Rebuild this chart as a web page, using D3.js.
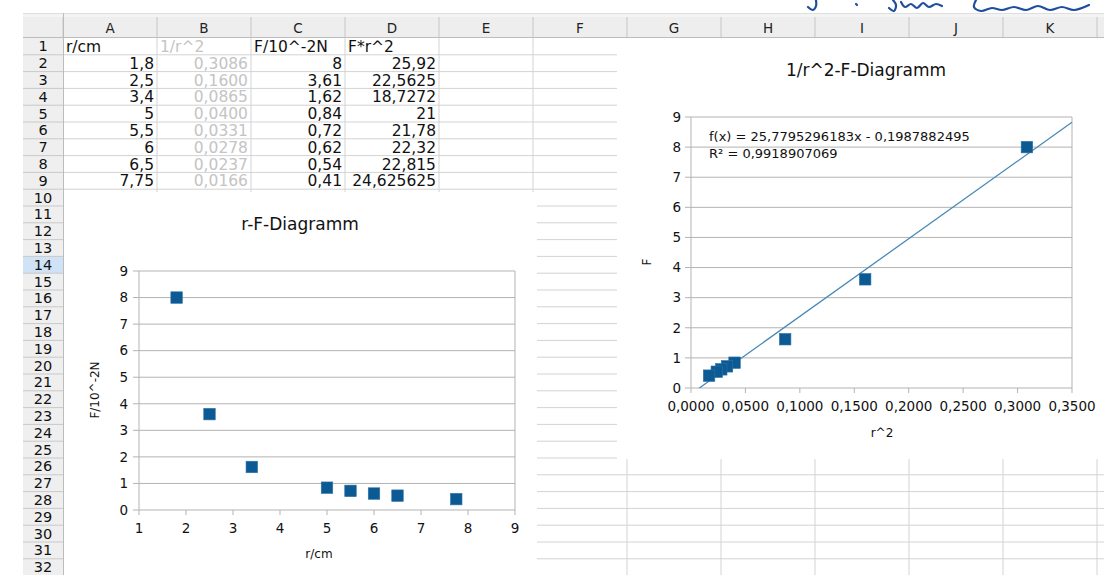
<!DOCTYPE html>
<html><head><meta charset="utf-8">
<script src="https://cdn.jsdelivr.net/npm/d3@7"></script>
<style>body{margin:0;background:#fff;overflow:hidden}svg{display:block}</style>
</head><body><svg id="c" width="1104" height="575"></svg>
<script>
// ---------- data ----------
const rValues = [1.8, 2.5, 3.4, 5, 5.5, 6, 6.5, 7.75];
const invR2Values = [0.3086, 0.1600, 0.0865, 0.0400, 0.0331, 0.0278, 0.0237, 0.0166];
const forceValues = [8, 3.61, 1.62, 0.84, 0.72, 0.62, 0.54, 0.41];
const forceR2Values = [25.92, 22.5625, 18.7272, 21, 21.78, 22.32, 22.815, 24.625625];
const headerLabels = ["r/cm", "1/r^2", "F/10^-2N", "F*r^2"];
const columnLetters = ["A","B","C","D","E","F","G","H","I","J","K"];
const yTicks = [0,1,2,3,4,5,6,7,8,9];
const leftXTicks = [1,2,3,4,5,6,7,8,9];
const rightXTicks = [0, 0.05, 0.10, 0.15, 0.20, 0.25, 0.30, 0.35];
const trendSlope = 25.7795296183;
const trendIntercept = -0.1987882495;
const trendLabel = "f(x) = 25,7795296183x - 0,1987882495";
const r2Label = "R\u00B2 = 0,9918907069";
const leftTitle = "r-F-Diagramm", rightTitle = "1/r^2-F-Diagramm";
const leftXLabel = "r/cm", leftYLabel = "F/10^-2N", rightXLabel = "r^2", rightYLabel = "F";

// ---------- helpers ----------
const de = d3.formatLocale({decimal: ",", thousands: ".", grouping: [3], currency: ["", "€"]});
const fmt4 = de.format(".4f");
const fmtGen = v => String(v).replace(".", ",");
const svg = d3.select("#c");
const FONT = "DejaVu Sans, Verdana, sans-serif";
const GRID = "#d3d3d3";

// ---------- spreadsheet ----------
const colX = d3.scaleLinear().domain([0, 11]).range([63, 1097]);
const rowY = d3.scaleLinear().domain([0, 32]).range([38, 575.6]);
const rowsIdx = d3.range(1, 33);
const colsIdx = d3.range(0, 12);

svg.append("g").selectAll("line").data(rowsIdx).join("line")
  .attr("x1", 63).attr("x2", 1104).attr("y1", d => rowY(d)).attr("y2", d => rowY(d))
  .attr("stroke", GRID);
svg.append("g").selectAll("line").data(colsIdx).join("line")
  .attr("x1", d => colX(d)).attr("x2", d => colX(d)).attr("y1", 38).attr("y2", 576)
  .attr("stroke", GRID);

// column header
svg.append("rect").attr("x", 23).attr("y", 13).attr("width", 1081).attr("height", 25).attr("fill", "#eeeeee");
svg.append("rect").attr("x", 23).attr("y", 13).attr("width", 1081).attr("height", 4).attr("fill", "#f4f4f4");
svg.append("line").attr("x1", 23).attr("x2", 1104).attr("y1", 13.5).attr("y2", 13.5).attr("stroke", "#dedede");
svg.append("line").attr("x1", 23).attr("x2", 1104).attr("y1", 37.5).attr("y2", 37.5).attr("stroke", "#bcbcbc");
svg.append("g").selectAll("line").data(colsIdx).join("line")
  .attr("x1", d => colX(d)).attr("x2", d => colX(d)).attr("y1", 17).attr("y2", 37.5)
  .attr("stroke", "#c6c6c6");
svg.append("g").selectAll("text").data(columnLetters).join("text")
  .attr("x", (d, i) => (colX(i) + colX(i + 1)) / 2).attr("y", 33)
  .attr("text-anchor", "middle").attr("font-family", FONT).attr("font-size", 13.5)
  .attr("fill", "#222").text(d => d);

// row header
svg.append("rect").attr("x", 23).attr("y", 38).attr("width", 40).attr("height", 538).attr("fill", "#efefef");
svg.append("rect").attr("x", 23).attr("y", rowY(13)).attr("width", 40).attr("height", rowY(14) - rowY(13)).attr("fill", "#cfe2f6");
svg.append("g").selectAll("line").data(rowsIdx).join("line")
  .attr("x1", 23).attr("x2", 63).attr("y1", d => rowY(d)).attr("y2", d => rowY(d))
  .attr("stroke", "#c9c9c9");
svg.append("line").attr("x1", 63.5).attr("x2", 63.5).attr("y1", 13).attr("y2", 576).attr("stroke", "#bcbcbc");
svg.append("g").selectAll("text").data(rowsIdx).join("text")
  .attr("x", 43).attr("y", d => (rowY(d - 1) + rowY(d)) / 2 + 5)
  .attr("text-anchor", "middle").attr("font-family", FONT).attr("font-size", 14.5)
  .attr("fill", "#111").text(d => d);

// cell contents
const cellG = svg.append("g").attr("font-family", FONT).attr("font-size", 15.5);
const baseY = r => (rowY(r - 1) + rowY(r)) / 2 + 5.6;
headerLabels.forEach((h, c) => {
  cellG.append("text").attr("x", colX(c) + 3).attr("y", baseY(1))
    .attr("fill", c === 1 ? "#c4c4c4" : "#111").text(h);
});
const columns = [
  {vals: rValues, f: fmtGen, color: "#111"},
  {vals: invR2Values, f: fmt4, color: "#c4c4c4"},
  {vals: forceValues, f: fmtGen, color: "#111"},
  {vals: forceR2Values, f: fmtGen, color: "#111"}
];
columns.forEach((col, c) => {
  cellG.append("g").selectAll("text").data(col.vals).join("text")
    .attr("x", colX(c + 1) - 3).attr("y", (d, i) => baseY(i + 2))
    .attr("text-anchor", "end").attr("fill", col.color).text(d => col.f(d));
});

// handwriting (partially cut off at top)
const hw = [
  [[816,0],[816,6],[813,10],[808,7]],
  [[856,4],[857,5]],
  [[893,0],[896,5],[894,11],[889,8]],
  [[901,2],[905,7],[911,4],[917,8],[923,3],[929,7],[936,4],[942,6]],
  [[976,0],[974,7],[981,11],[992,8],[1002,10],[1014,7],[1026,10],[1038,6],[1050,10],[1062,7],[1074,10],[1089,5]]
];
svg.append("g").selectAll("path").data(hw).join("path")
  .attr("d", d3.line().curve(d3.curveCatmullRom)).attr("fill", "none")
  .attr("stroke", "#1e4f9f").attr("stroke-width", 2.2).attr("stroke-linecap", "round");

// ---------- chart helper ----------
const SQ = 11.5, MARK = "#0c5a93", AX = "#b3b3b3";
function chart(g, x, y, xTicks, xFmt, opts) {
  const [x0, x1] = x.range(), [yb, yt] = y.range();
  g.append("g").selectAll("line").data(yTicks).join("line")
    .attr("x1", x0 - 6).attr("x2", x1).attr("y1", d => y(d)).attr("y2", d => y(d))
    .attr("stroke", AX);
  g.append("g").selectAll("line").data([x0, x1]).join("line")
    .attr("x1", d => d).attr("x2", d => d).attr("y1", yt).attr("y2", yb).attr("stroke", AX);
  g.append("g").selectAll("line").data(xTicks).join("line")
    .attr("x1", d => x(d)).attr("x2", d => x(d)).attr("y1", yb).attr("y2", yb + 5).attr("stroke", AX);
  g.append("g").selectAll("text").data(yTicks).join("text")
    .attr("x", x0 - opts.yPad).attr("y", d => y(d) + 4.8).attr("text-anchor", "end")
    .attr("font-family", FONT).attr("font-size", 13.5).attr("fill", "#111").text(d => d);
  g.append("g").selectAll("text").data(xTicks).join("text")
    .attr("x", d => x(d)).attr("y", yb + opts.xLabY).attr("text-anchor", "middle")
    .attr("font-family", FONT).attr("font-size", 13.5).attr("fill", "#111").text(d => xFmt(d));
  g.append("text").attr("x", opts.title[0]).attr("y", opts.title[1]).attr("text-anchor", "middle")
    .attr("font-family", FONT).attr("font-size", 17).attr("fill", "#111").text(opts.titleText);
  g.append("text").attr("x", opts.xl[0]).attr("y", opts.xl[1]).attr("text-anchor", "middle")
    .attr("font-family", FONT).attr("font-size", 12).attr("fill", "#111").text(opts.xlText);
  g.append("text").attr("transform", `translate(${opts.yl[0]},${opts.yl[1]}) rotate(-90)`)
    .attr("text-anchor", "middle").attr("font-family", FONT).attr("font-size", 12)
    .attr("fill", "#111").text(opts.ylText);
}

// ---------- left chart ----------
svg.append("rect").attr("x", 64).attr("y", 192).attr("width", 473).attr("height", 384).attr("fill", "#fff");
const gl = svg.append("g");
const xl = d3.scaleLinear().domain([1, 9]).range([139, 515]);
const yl = d3.scaleLinear().domain([0, 9]).range([510, 271]);
chart(gl, xl, yl, leftXTicks, d => d, {
  yPad: 11, xLabY: 23, title: [300, 230], titleText: leftTitle,
  xl: [319, 558], xlText: leftXLabel, yl: [99, 390], ylText: leftYLabel
});
gl.append("g").selectAll("rect").data(rValues.map((r, i) => [r, forceValues[i]])).join("rect")
  .attr("x", d => xl(d[0]) - SQ / 2).attr("y", d => yl(d[1]) - SQ / 2)
  .attr("width", SQ).attr("height", SQ).attr("fill", MARK).attr("stroke", "#2f72a6").attr("stroke-width", 0.6);

// ---------- right chart ----------
svg.append("rect").attr("x", 617).attr("y", 38.5).attr("width", 487).attr("height", 420.5).attr("fill", "#fff");
const gr = svg.append("g");
const xr = d3.scaleLinear().domain([0, 0.35]).range([691, 1072]);
const yr = d3.scaleLinear().domain([0, 9]).range([388, 117]);
chart(gr, xr, yr, rightXTicks, fmt4, {
  yPad: 10, xLabY: 23, title: [866, 76], titleText: rightTitle,
  xl: [882, 437], xlText: rightXLabel, yl: [651, 262], ylText: rightYLabel
});
const tx0 = -trendIntercept / trendSlope, tx1 = 0.35;
gr.append("path")
  .datum([[tx0, trendSlope * tx0 + trendIntercept], [tx1, trendSlope * tx1 + trendIntercept]])
  .attr("d", d3.line().x(d => xr(d[0])).y(d => yr(d[1])))
  .attr("fill", "none").attr("stroke", "#4a89b6").attr("stroke-width", 1.3);
gr.append("g").selectAll("rect").data(invR2Values.map((v, i) => [v, forceValues[i]])).join("rect")
  .attr("x", d => xr(d[0]) - SQ / 2).attr("y", d => yr(d[1]) - SQ / 2)
  .attr("width", SQ).attr("height", SQ).attr("fill", MARK).attr("stroke", "#2f72a6").attr("stroke-width", 0.6);
gr.append("text").attr("x", 709).attr("y", 140.5).attr("font-family", FONT).attr("font-size", 13)
  .attr("fill", "#111").text(trendLabel);
gr.append("text").attr("x", 709).attr("y", 157.5).attr("font-family", FONT).attr("font-size", 13)
  .attr("fill", "#111").text(r2Label);
</script></body></html>
